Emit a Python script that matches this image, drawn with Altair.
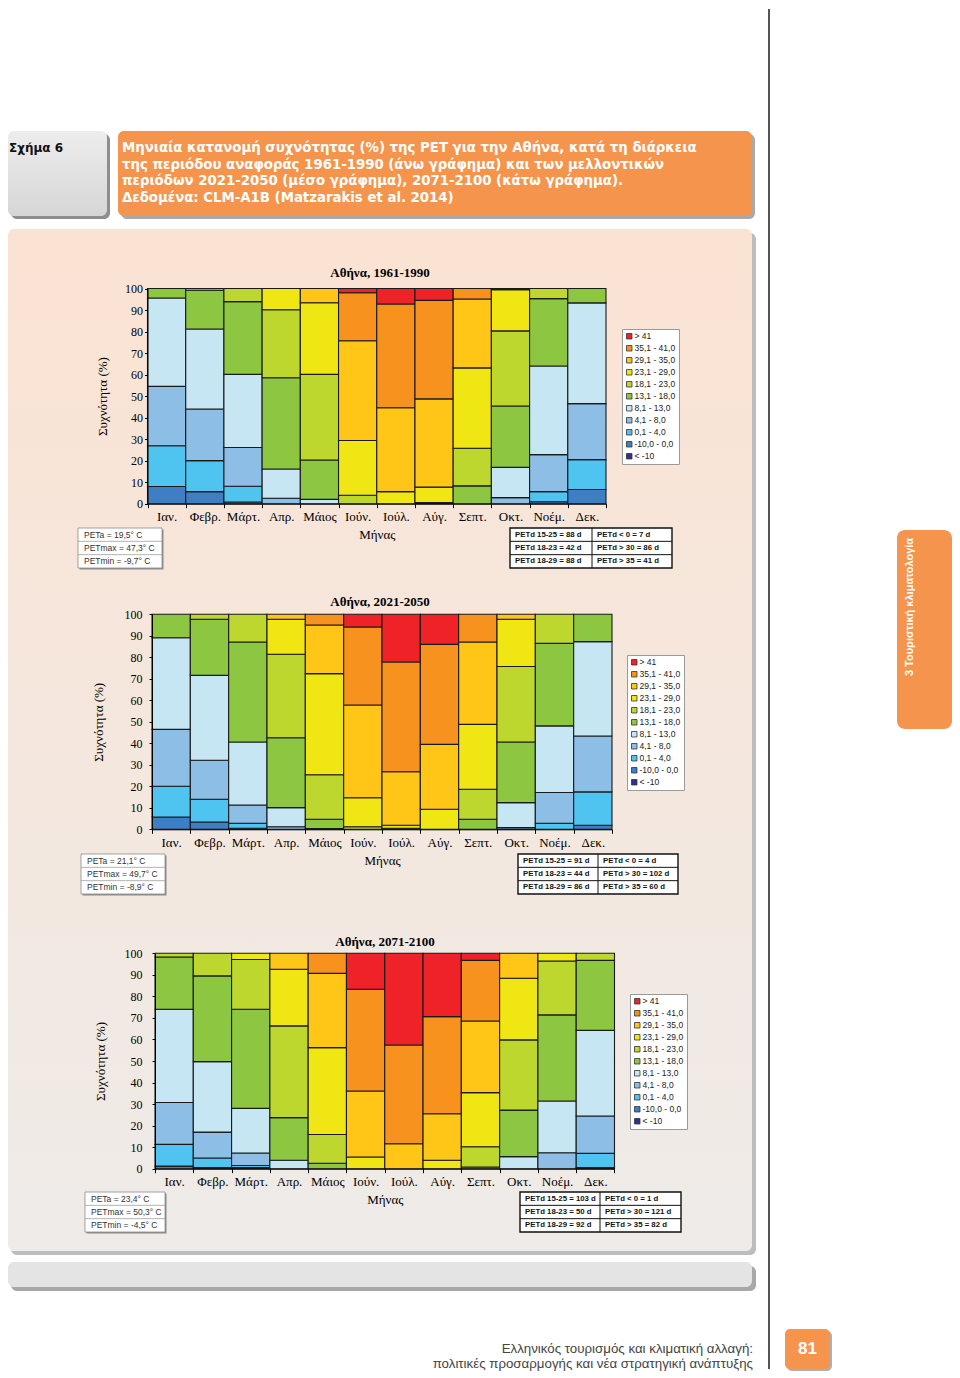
import altair as alt
import pandas as pd

# ---------------- data ----------------
MONTHS = ["Ιαν.", "Φεβρ.", "Μάρτ.", "Απρ.", "Μάιος", "Ιούν.", "Ιούλ.", "Αύγ.", "Σεπτ.", "Οκτ.", "Νοέμ.", "Δεκ."]
# PET classes from bottom of the stack to top
CLASSES = ["< -10", "-10,0 - 0,0", "0,1 - 4,0", "4,1 - 8,0", "8,1 - 13,0", "13,1 - 18,0",
           "18,1 - 23,0", "23,1 - 29,0", "29,1 - 35,0", "35,1 - 41,0", "> 41"]
COLORS = ["#2E3192", "#3D7EC5", "#50C4F0", "#8DBEE6", "#C5E6F2", "#8DC640",
          "#BED72F", "#F0E614", "#FFC618", "#F7921E", "#EE2227"]

# one row per month, values per class (bottom -> top), % frequency
FREQ_1961_1990 = [
    [0, 8.0, 18.9, 27.6, 41.1, 4.4, 0, 0, 0, 0, 0],
    [0, 5.6, 14.4, 24.0, 37.2, 18.0, 0.8, 0, 0, 0, 0],
    [0, 0.8, 7.3, 18.0, 34.0, 33.8, 6.1, 0, 0, 0, 0],
    [0, 0, 0, 2.5, 13.6, 42.4, 31.6, 9.9, 0, 0, 0],
    [0, 0, 0, 0, 2.0, 18.3, 39.8, 33.3, 6.6, 0, 0],
    [0, 0, 0, 0, 0, 0, 3.9, 25.5, 46.3, 22.3, 2.0],
    [0, 0, 0, 0, 0, 0, 0, 5.6, 39.0, 48.2, 7.2],
    [0, 0, 0, 0, 0, 0, 0.5, 7.2, 41.0, 45.8, 5.5],
    [0, 0, 0, 0, 0, 8.3, 17.5, 37.3, 32.0, 4.9, 0],
    [0, 0, 0, 2.8, 14.1, 28.5, 34.9, 19.2, 0.5, 0, 0],
    [0, 0.9, 4.7, 17.2, 41.2, 31.3, 4.7, 0, 0, 0, 0],
    [0, 6.6, 13.9, 26.0, 46.8, 6.7, 0, 0, 0, 0, 0],
]
FREQ_2021_2050 = [
    [0, 5.7, 14.3, 26.5, 42.6, 10.9, 0, 0, 0, 0, 0],
    [0, 3.4, 10.6, 18.1, 39.5, 26.1, 2.3, 0, 0, 0, 0],
    [0, 0.5, 2.3, 8.5, 29.3, 46.5, 12.9, 0, 0, 0, 0],
    [0, 0, 0, 1.2, 8.9, 32.5, 38.8, 16.3, 2.3, 0, 0],
    [0, 0, 0, 0, 0.3, 4.4, 20.7, 47.0, 22.6, 5.0, 0],
    [0, 0, 0, 0, 0, 0, 1.2, 13.5, 43.1, 36.3, 5.9],
    [0, 0, 0, 0, 0, 0, 0.5, 1.4, 24.9, 51.0, 22.2],
    [0, 0, 0, 0, 0, 0, 0, 9.3, 30.2, 46.5, 14.0],
    [0, 0, 0, 0, 0, 4.7, 13.9, 30.2, 38.3, 12.9, 0],
    [0, 0, 0, 0.8, 11.6, 28.2, 35.1, 22.0, 2.3, 0, 0],
    [0, 0, 2.8, 14.3, 31.0, 38.4, 13.5, 0, 0, 0, 0],
    [0, 1.9, 15.5, 26.0, 43.9, 12.7, 0, 0, 0, 0, 0],
]
FREQ_2071_2100 = [
    [0, 1.2, 10.1, 19.4, 43.3, 24.3, 1.7, 0, 0, 0, 0],
    [0, 0.5, 4.5, 12.0, 32.7, 39.8, 10.5, 0, 0, 0, 0],
    [0, 0.5, 1.0, 5.8, 20.7, 46.0, 23.1, 2.9, 0, 0, 0],
    [0, 0, 0, 0, 3.9, 19.8, 42.6, 26.3, 7.4, 0, 0],
    [0, 0, 0, 0, 0, 2.5, 13.4, 40.3, 34.5, 9.3, 0],
    [0, 0, 0, 0, 0, 0, 0, 5.4, 30.7, 47.2, 16.7],
    [0, 0, 0, 0, 0, 0, 0, 0, 11.6, 45.8, 42.6],
    [0, 0, 0, 0, 0, 0, 0, 3.9, 21.6, 45.1, 29.4],
    [0, 0, 0, 0, 0, 0.8, 9.4, 25.1, 33.3, 28.1, 3.3],
    [0, 0, 0, 0, 5.6, 21.6, 32.6, 28.6, 11.6, 0, 0],
    [0, 0, 0, 7.4, 24.0, 40.0, 25.0, 3.6, 0, 0, 0],
    [0, 0.5, 6.6, 17.4, 39.7, 32.5, 3.3, 0, 0, 0, 0],
]

TITLES = ["Αθήνα, 1961-1990", "Αθήνα, 2021-2050", "Αθήνα, 2071-2100"]
STATS_1961 = ["PETa = 19,5° C", "PETmax = 47,3° C", "PETmin = -9,7° C"]
STATS_2021 = ["PETa = 21,1° C", "PETmax = 49,7° C", "PETmin = -8,9° C"]
STATS_2071 = ["PETa = 23,4° C", "PETmax = 50,3° C", "PETmin = -4,5° C"]
PETD_A_1961 = ["PETd 15-25 = 88 d", "PETd 18-23 = 42 d", "PETd 18-29 = 88 d"]
PETD_B_1961 = ["PETd <  0 = 7 d", "PETd > 30 = 86 d", "PETd > 35 = 41 d"]
PETD_A_2021 = ["PETd 15-25 = 91 d", "PETd 18-23 = 44 d", "PETd 18-29 = 86 d"]
PETD_B_2021 = ["PETd <  0 = 4 d", "PETd > 30 = 102 d", "PETd > 35 = 60 d"]
PETD_A_2071 = ["PETd 15-25 = 103 d", "PETd 18-23 = 50 d", "PETd 18-29 = 92 d"]
PETD_B_2071 = ["PETd <  0 = 1 d", "PETd > 30 = 121 d", "PETd > 35 = 82 d"]

FIG_LABEL = "Σχήμα 6"
HEADER_LINES = [
    "Μηνιαία κατανομή συχνότητας (%) της PET για την Αθήνα, κατά τη διάρκεια",
    "της περιόδου αναφοράς 1961-1990 (άνω γράφημα) και των μελλοντικών",
    "περιόδων 2021-2050 (μέσο γράφημα), 2071-2100 (κάτω γράφημα).",
    "Δεδομένα: CLM-A1B (Matzarakis et al. 2014)",
]
TAB_TEXT = "3 Τουριστική κλιματολογία"
FOOTER_LINES = ["Ελληνικός τουρισμός και κλιματική αλλαγή:",
                "πολιτικές προσαρμογής και νέα στρατηγική ανάπτυξης"]
PAGE_NO = "81"

# ---------------- helpers ----------------
ONE = pd.DataFrame({"k": [0]})
SERIF = "Liberation Serif"
SANS = "Liberation Sans"
WIDE = "DejaVu Sans"
ORANGE = "#F5954D"
W = 944


def box(x0, x1, y0, y1, **kw):
    return alt.Chart(ONE).mark_rect(**kw).encode(
        x=alt.value(x0), x2=alt.value(x1), y=alt.value(y0), y2=alt.value(y1))


def line(x0, x1, y0, y1, **kw):
    return alt.Chart(ONE).mark_rule(**kw).encode(
        x=alt.value(x0), x2=alt.value(x1), y=alt.value(y0), y2=alt.value(y1))


def label(txt, x, y, **kw):
    return alt.Chart(ONE).mark_text(text=txt, **kw).encode(x=alt.value(x), y=alt.value(y))


def grad(c0, c1):
    return {"gradient": "linear", "x1": 0, "y1": 0, "x2": 0, "y2": 1,
            "stops": [{"offset": 0, "color": c0}, {"offset": 1, "color": c1}]}


def bars(freq, xr, yr, h, lx, ly, lab_pad, title_pad):
    recs = []
    for m, vals in zip(MONTHS, freq):
        for i, v in enumerate(vals):
            if v > 0:
                recs.append({"month": m, "cls": CLASSES[i], "idx": i, "freq": v})
    df = pd.DataFrame(recs)
    return alt.Chart(df).mark_bar(stroke="#1a1a1a", strokeWidth=1.1).encode(
        x=alt.X("month:N", sort=MONTHS, title="Μήνας",
                scale=alt.Scale(domain=MONTHS, range=list(xr), paddingInner=0, paddingOuter=0),
                axis=alt.Axis(labelAngle=0, tickBand="extent", tickSize=4, labelPadding=3,
                              titlePadding=5, offset=yr[0] - h, grid=False, zindex=1,
                              labelFont=SERIF, labelFontSize=13, labelColor="black",
                              titleFont=SERIF, titleFontSize=13, titleFontWeight="normal",
                              titleColor="black", domainColor="black", tickColor="black")),
        y=alt.Y("freq:Q", stack="zero", title="Συχνότητα (%)",
                scale=alt.Scale(domain=[0, 100], range=list(yr), nice=False),
                axis=alt.Axis(values=list(range(0, 101, 10)), tickSize=3, labelPadding=lab_pad,
                              titlePadding=title_pad, offset=-xr[0], grid=False,
                              labelFlush=False, zindex=1,
                              labelFont=SERIF, labelFontSize=12, labelColor="black",
                              titleFont=SERIF, titleFontSize=13, titleFontWeight="normal",
                              titleColor="black", domainColor="black", tickColor="black")),
        color=alt.Color("cls:N",
                        scale=alt.Scale(domain=CLASSES[::-1], range=COLORS[::-1]),
                        legend=alt.Legend(orient="none", legendX=lx, legendY=ly, title=None,
                                          fillColor="white", strokeColor="#9a9a9a", padding=3,
                                          symbolType="square", symbolSize=30,
                                          symbolStrokeColor="#333", symbolStrokeWidth=0.8,
                                          labelFont=SANS, labelFontSize=8.5, labelColor="#222",
                                          rowPadding=2, labelOffset=1)),
        order=alt.Order("idx:Q", sort="ascending"),
    )


def stat_table(x0, x1, y0, y1, lines):
    n = len(lines)
    rh = (y1 - y0) / n
    out = [box(x0 + 1.5, x1 + 1.5, y0 + 1.5, y1 + 1.5, fill="#8c8c8c"),
           box(x0, x1, y0, y1, fill="white", stroke="#8a8a8a", strokeWidth=0.8)]
    for k in range(1, n):
        out.append(line(x0, x1, y0 + k * rh, y0 + k * rh, color="#a0a0a0", strokeWidth=0.8))
    for k, t in enumerate(lines):
        out.append(label(t, x0 + 6, y0 + (k + 0.5) * rh, align="left", baseline="middle",
                         font=SANS, fontSize=8.5, color="#333"))
    return out


def petd_table(x0, xm, x1, y0, y1, col_a, col_b):
    n = len(col_a)
    rh = (y1 - y0) / n
    out = [box(x0, x1, y0, y1, fill="white", stroke="#111", strokeWidth=1.4)]
    for k in range(1, n):
        out.append(line(x0, x1, y0 + k * rh, y0 + k * rh, color="#111", strokeWidth=1))
    out.append(line(xm, xm, y0, y1, color="#111", strokeWidth=1))
    for k in range(n):
        out.append(label(col_a[k], x0 + 5, y0 + (k + 0.5) * rh, align="left", baseline="middle",
                         font=SANS, fontSize=7.8, fontWeight="bold", color="#111"))
        out.append(label(col_b[k], xm + 5, y0 + (k + 0.5) * rh, align="left", baseline="middle",
                         font=SANS, fontSize=7.8, fontWeight="bold", color="#111"))
    return out


def title_text(t, x, y):
    return label(t, x, y, align="center", baseline="middle", font=SERIF, fontSize=13,
                 fontWeight="bold", color="black")


# ---------------- row 1: page furniture + first chart ----------------
H1, H2, H3 = 577, 330, 455
deco = [
    line(761, 761, 0, 1360, color="#555555", strokeWidth=2),
    box(3, 748, 224, 1246, fill="#BDBDBD", cornerRadius=6),
    box(0, 744, 220, 1242, fill=grad("#FBE3D3", "#EEEBE8"), cornerRadius=6),
    box(3, 748, 1257, 1282, fill="#A8A8A8", cornerRadius=6),
    box(0, 744, 1253, 1278, fill="#E4E4E4", cornerRadius=6),
    box(3, 102, 125, 210, fill="#8E8E8E", cornerRadius=6),
    box(0, 99, 122, 207, fill=grad("#EDEDED", "#D6D6D6"), cornerRadius=6),
    box(113, 747, 125, 210, fill="#A9A9A9", cornerRadius=6),
    box(110, 744, 122, 207, fill=ORANGE, cornerRadius=6),
    label(FIG_LABEL, 1, 139, align="left", baseline="middle", font=WIDE, fontSize=12,
          fontWeight="bold", color="#111"),
]
for k, t in enumerate(HEADER_LINES):
    deco.append(label(t, 114, 139 + k * 16.5, align="left", baseline="middle", font=WIDE,
                      fontSize=13.3, fontWeight="bold", color="white"))
deco += [
    box(889, 944, 521, 720, fill=ORANGE, cornerRadius=8),
    label(TAB_TEXT, 902, 598, align="center", baseline="middle", angle=270, font=SANS,
          fontSize=11, fontWeight="bold", color="white"),
    label(FOOTER_LINES[0], 745, 1340, align="right", baseline="middle", font=SANS,
          fontSize=13.3, color="#444444"),
    label(FOOTER_LINES[1], 745, 1355, align="right", baseline="middle", font=SANS,
          fontSize=13.3, color="#444444"),
    box(779, 824, 1322, 1362, fill="#B0B0B0", cornerRadius=5),
    box(777, 822, 1320, 1360, fill=ORANGE, cornerRadius=5),
    label(PAGE_NO, 799.5, 1340, align="center", baseline="middle", font=SANS, fontSize=17,
          fontWeight="bold", color="white"),
]

row1 = alt.layer(
    *deco,
    title_text(TITLES[0], 372, 264),
    bars(FREQ_1961_1990, (139.5, 598), (494.7, 279.5), H1, 614, 320, 2, 15.5),
    *stat_table(70, 154, 519, 559, STATS_1961),
    *petd_table(502, 584, 664, 519, 559, PETD_A_1961, PETD_B_1961),
).properties(width=W, height=H1)

row2 = alt.layer(
    title_text(TITLES[1], 372, 16),
    bars(FREQ_2021_2050, (144, 604), (243.3, 28.3), H2, 619, 69, 7, 19),
    *stat_table(73, 157, 268, 308, STATS_2021),
    *petd_table(510, 590, 670, 268, 308, PETD_A_2021, PETD_B_2021),
).properties(width=W, height=H2)

row3 = alt.layer(
    title_text(TITLES[2], 377, 26),
    bars(FREQ_2071_2100, (147, 606.5), (252.7, 37.3), H3, 622, 78, 10, 17),
    *stat_table(77, 157, 276, 316, STATS_2071),
    *petd_table(512, 592, 673, 276, 316, PETD_A_2071, PETD_B_2071),
).properties(width=W, height=H3)

chart = (
    alt.vconcat(row1, row2, row3, spacing=0, bounds="flush")
    .resolve_scale(x="independent", y="independent", color="independent")
    .properties(padding=0, background="white")
    .configure_view(stroke=None)
)

chart.save("out.html", embed_options={"renderer": "svg", "actions": False})
